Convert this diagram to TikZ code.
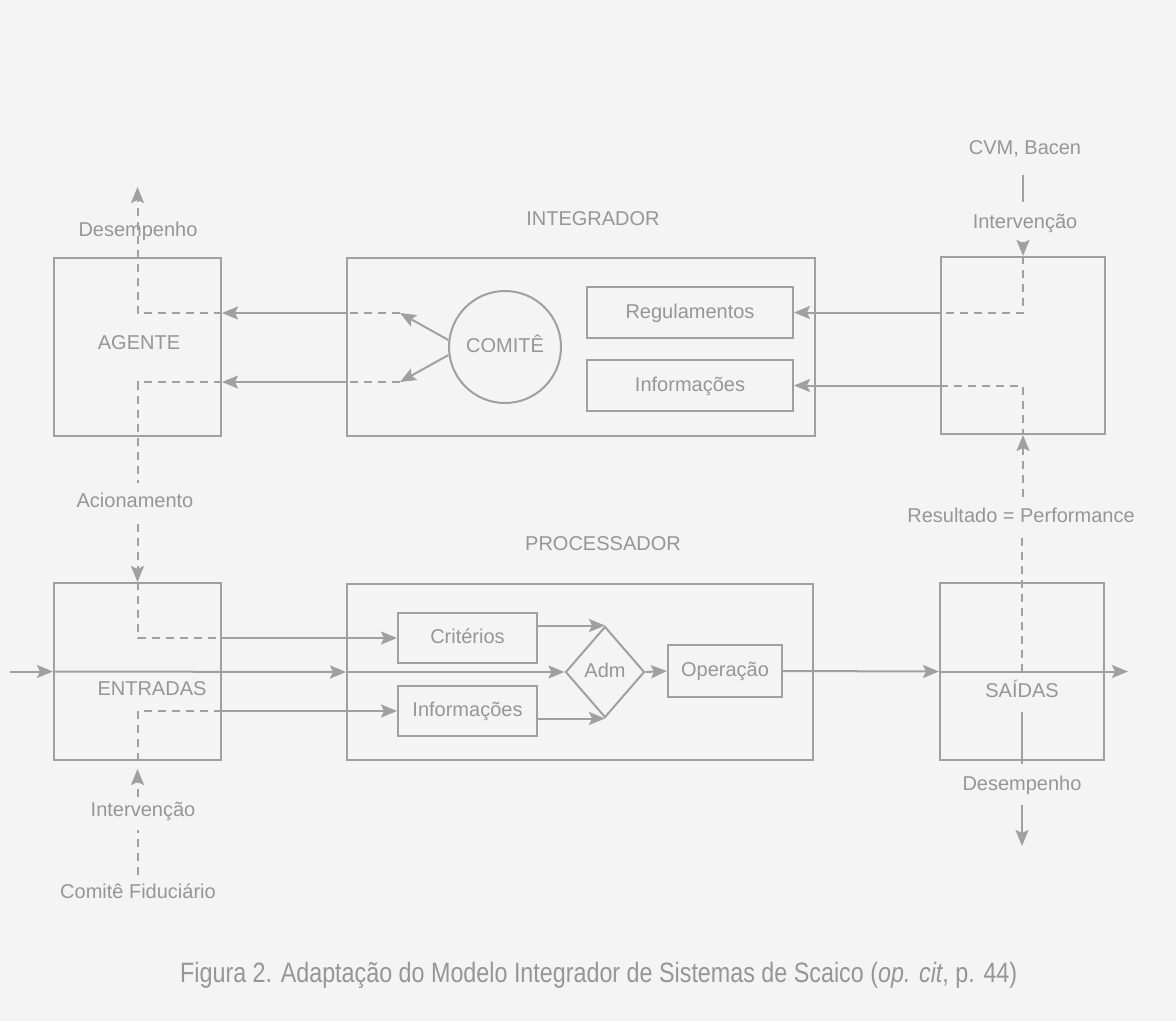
\documentclass[tikz,border=0pt]{standalone}
\usepackage{fontspec}
\setmainfont{Liberation Sans}
\usepackage{graphicx}
\usetikzlibrary{arrows.meta,shapes.geometric}
\definecolor{ln}{RGB}{160,160,160}
\definecolor{tx}{RGB}{150,150,150}
\definecolor{bg}{RGB}{244,244,244}
\begin{document}
\begin{tikzpicture}[x=1pt,y=-1pt,
  lw/.style={line width=2pt, draw=ln},
  box/.style={line width=2pt, draw=ln, rectangle, text=tx, font=\fontsize{20}{24}\selectfont, inner sep=0pt, text height=15pt, text depth=4pt},
  lbl/.style={text=tx, font=\fontsize{20}{24}\selectfont, inner sep=2pt, text height=15pt, text depth=4pt},
  arr/.style={-{Stealth[length=16pt,width=13pt,inset=3pt]}},
  dsh/.style={dash pattern=on 8pt off 6pt},
]
\useasboundingbox (0,0) rectangle (1176,1021);
\fill[bg] (0,0) rectangle (1176,1021);

% boxes
\node[box, minimum width=167pt, minimum height=178pt] (agente) at (137.5,347) {};
\node[lbl] (agenteL) at (139,344) {AGENTE};
\node[box, minimum width=468pt, minimum height=178pt] (integ) at (581,347) {};
\node[lbl] (integL) at (593,220) {INTEGRADOR};
\node[box, circle, minimum size=112pt] (comite) at (505,347) {COMITÊ};
\node[box, minimum width=206pt, minimum height=51pt] (regul) at (690,312.5) {Regulamentos};
\node[box, minimum width=206pt, minimum height=51pt] (infoI) at (690,385.5) {Informações};
\node[box, minimum width=164pt, minimum height=177pt] (cvm) at (1023,345.5) {};
\node[lbl] (cvmL) at (1025,149) {CVM, Bacen};
\node[lbl] (intvR) at (1025,223) {Intervenção};

\node[box, minimum width=167pt, minimum height=177pt] (entradas) at (137.5,671.5) {};
\node[lbl] (entradasL) at (152,690) {ENTRADAS};
\node[box, minimum width=466pt, minimum height=176pt] (proc) at (580,672) {};
\node[lbl] (procL) at (603,545) {PROCESSADOR};
\node[box, minimum width=139pt, minimum height=50pt] (crit) at (467.5,638) {Critérios};
\node[box, minimum width=139pt, minimum height=50pt] (infoP) at (467.5,711) {Informações};
\node[box, diamond, minimum width=79pt, minimum height=91pt] (adm) at (605,672) {Adm};
\node[box, minimum width=114pt, minimum height=52pt] (oper) at (725,671) {Operação};
\node[box, minimum width=164pt, minimum height=177pt] (saidas) at (1022,671.5) {};
\node[lbl] (saidasL) at (1022,692) {SAÍDAS};

% free labels
\node[lbl] (desR) at (1022,785) {Desempenho};
\node[lbl] (resL) at (1021,517) {Resultado = Performance};
\node[lbl] (desL) at (138,231) {Desempenho};
\node[lbl] (acion) at (135,502) {Acionamento};
\node[lbl] (intvL) at (143,811) {Intervenção};
\node[lbl] (cf) at (138,893) {Comitê Fiduciário};

% coordinates
\coordinate (cu) at (400,313);
\coordinate (cl) at (400,382);
\coordinate (dtop) at (137.5,187);
\coordinate (inL) at (10,671.5);
\coordinate (outR) at (1128,671.5);
\coordinate (outD) at (1022,846);

% integrator -> agente
\draw[lw,arr] (comite.173) -- (cu);
\draw[lw,arr] (comite.188) -- (cl);
\draw[lw,dsh] (cu) -- (cu -| integ.west);
\draw[lw,arr] (cu -| integ.west) -- (cu -| agente.east);
\draw[lw,dsh,arr] (cu -| agente.east) -- (cu -| agente.center) -- (dtop);
\draw[lw,dsh] (cl) -- (cl -| integ.west);
\draw[lw,arr] (cl -| integ.west) -- (cl -| agente.east);
\draw[lw,dsh,shorten >=7pt] (cl -| agente.east) -- (cl -| agente.center) -- (acion.north -| agente.center);
\draw[lw,dsh,arr,shorten <=10pt] (acion.south -| entradas.north) -- (entradas.north);

% entradas interior
\draw[lw,dsh] (entradas.north) -- (entradas.north |- crit.west) -- (entradas.east |- crit.west);
\draw[lw,arr] (entradas.east |- crit.west) -- (crit.west);
\draw[lw,dsh] (entradas.south) -- (entradas.south |- infoP.west) -- (entradas.east |- infoP.west);
\draw[lw,arr] (entradas.east |- infoP.west) -- (infoP.west);
\draw[lw,dsh,arr,shorten <=2pt] (intvL.north -| entradas.south) -- ([yshift=-8pt]entradas.south);
\draw[lw,dsh,shorten <=6pt,shorten >=7pt] (cf.north -| entradas.south) -- (intvL.south -| entradas.south);

% main flow
\draw[lw,arr] (inL) -- (entradas.west);
\draw[lw,arr] (entradas.west) -- (proc.west);
\draw[lw,arr] (proc.west) -- (adm.west);
\draw[lw,arr] (adm.north -| crit.east) -- (adm.north);
\draw[lw,arr] (adm.south -| infoP.east) -- (adm.south);
\draw[lw,arr] (adm.east) -- (oper.west);
\draw[lw,arr] (oper.east) -- (saidas.west);
\draw[lw,arr] (saidas.west) -- (outR);

% saidas column
\draw[lw,dsh,shorten <=9.5pt] (resL.south -| saidas.center) -- (saidas.center);
\draw[lw,shorten <=8.5pt,shorten >=9.5pt] (saidasL.south) -- (desR.north);
\draw[lw,arr,shorten <=8.5pt] (desR.south) -- (outD);

% CVM column
\draw[lw,shorten <=14pt,shorten >=9pt] (cvmL.south -| cvm.north) -- (intvR.north -| cvm.north);
\draw[lw,arr,shorten <=7pt] (intvR.south -| cvm.north) -- (cvm.north);
\draw[lw,dsh] (cvm.north) -- (cvm.north |- regul.east) -- (cvm.west |- regul.east);
\draw[lw,arr] (cvm.west |- regul.east) -- (regul.east);
\draw[lw,arr] (cvm.west |- infoI.east) -- (infoI.east);
\draw[lw,dsh] (cvm.west |- infoI.east) -- (cvm.south |- infoI.east) -- (cvm.south);
\draw[lw,dsh,arr,shorten <=8pt] (resL.north -| cvm.south) -- (cvm.south);

% caption
\node[anchor=west, text=tx, inner sep=0pt] (cap) at (180,975) {\resizebox{837pt}{\height}{\fontsize{28}{32}\selectfont Figura 2. Adaptação do Modelo Integrador de Sistemas de Scaico (\textit{op. cit}, p. 44)}};
\end{tikzpicture}
\end{document}
